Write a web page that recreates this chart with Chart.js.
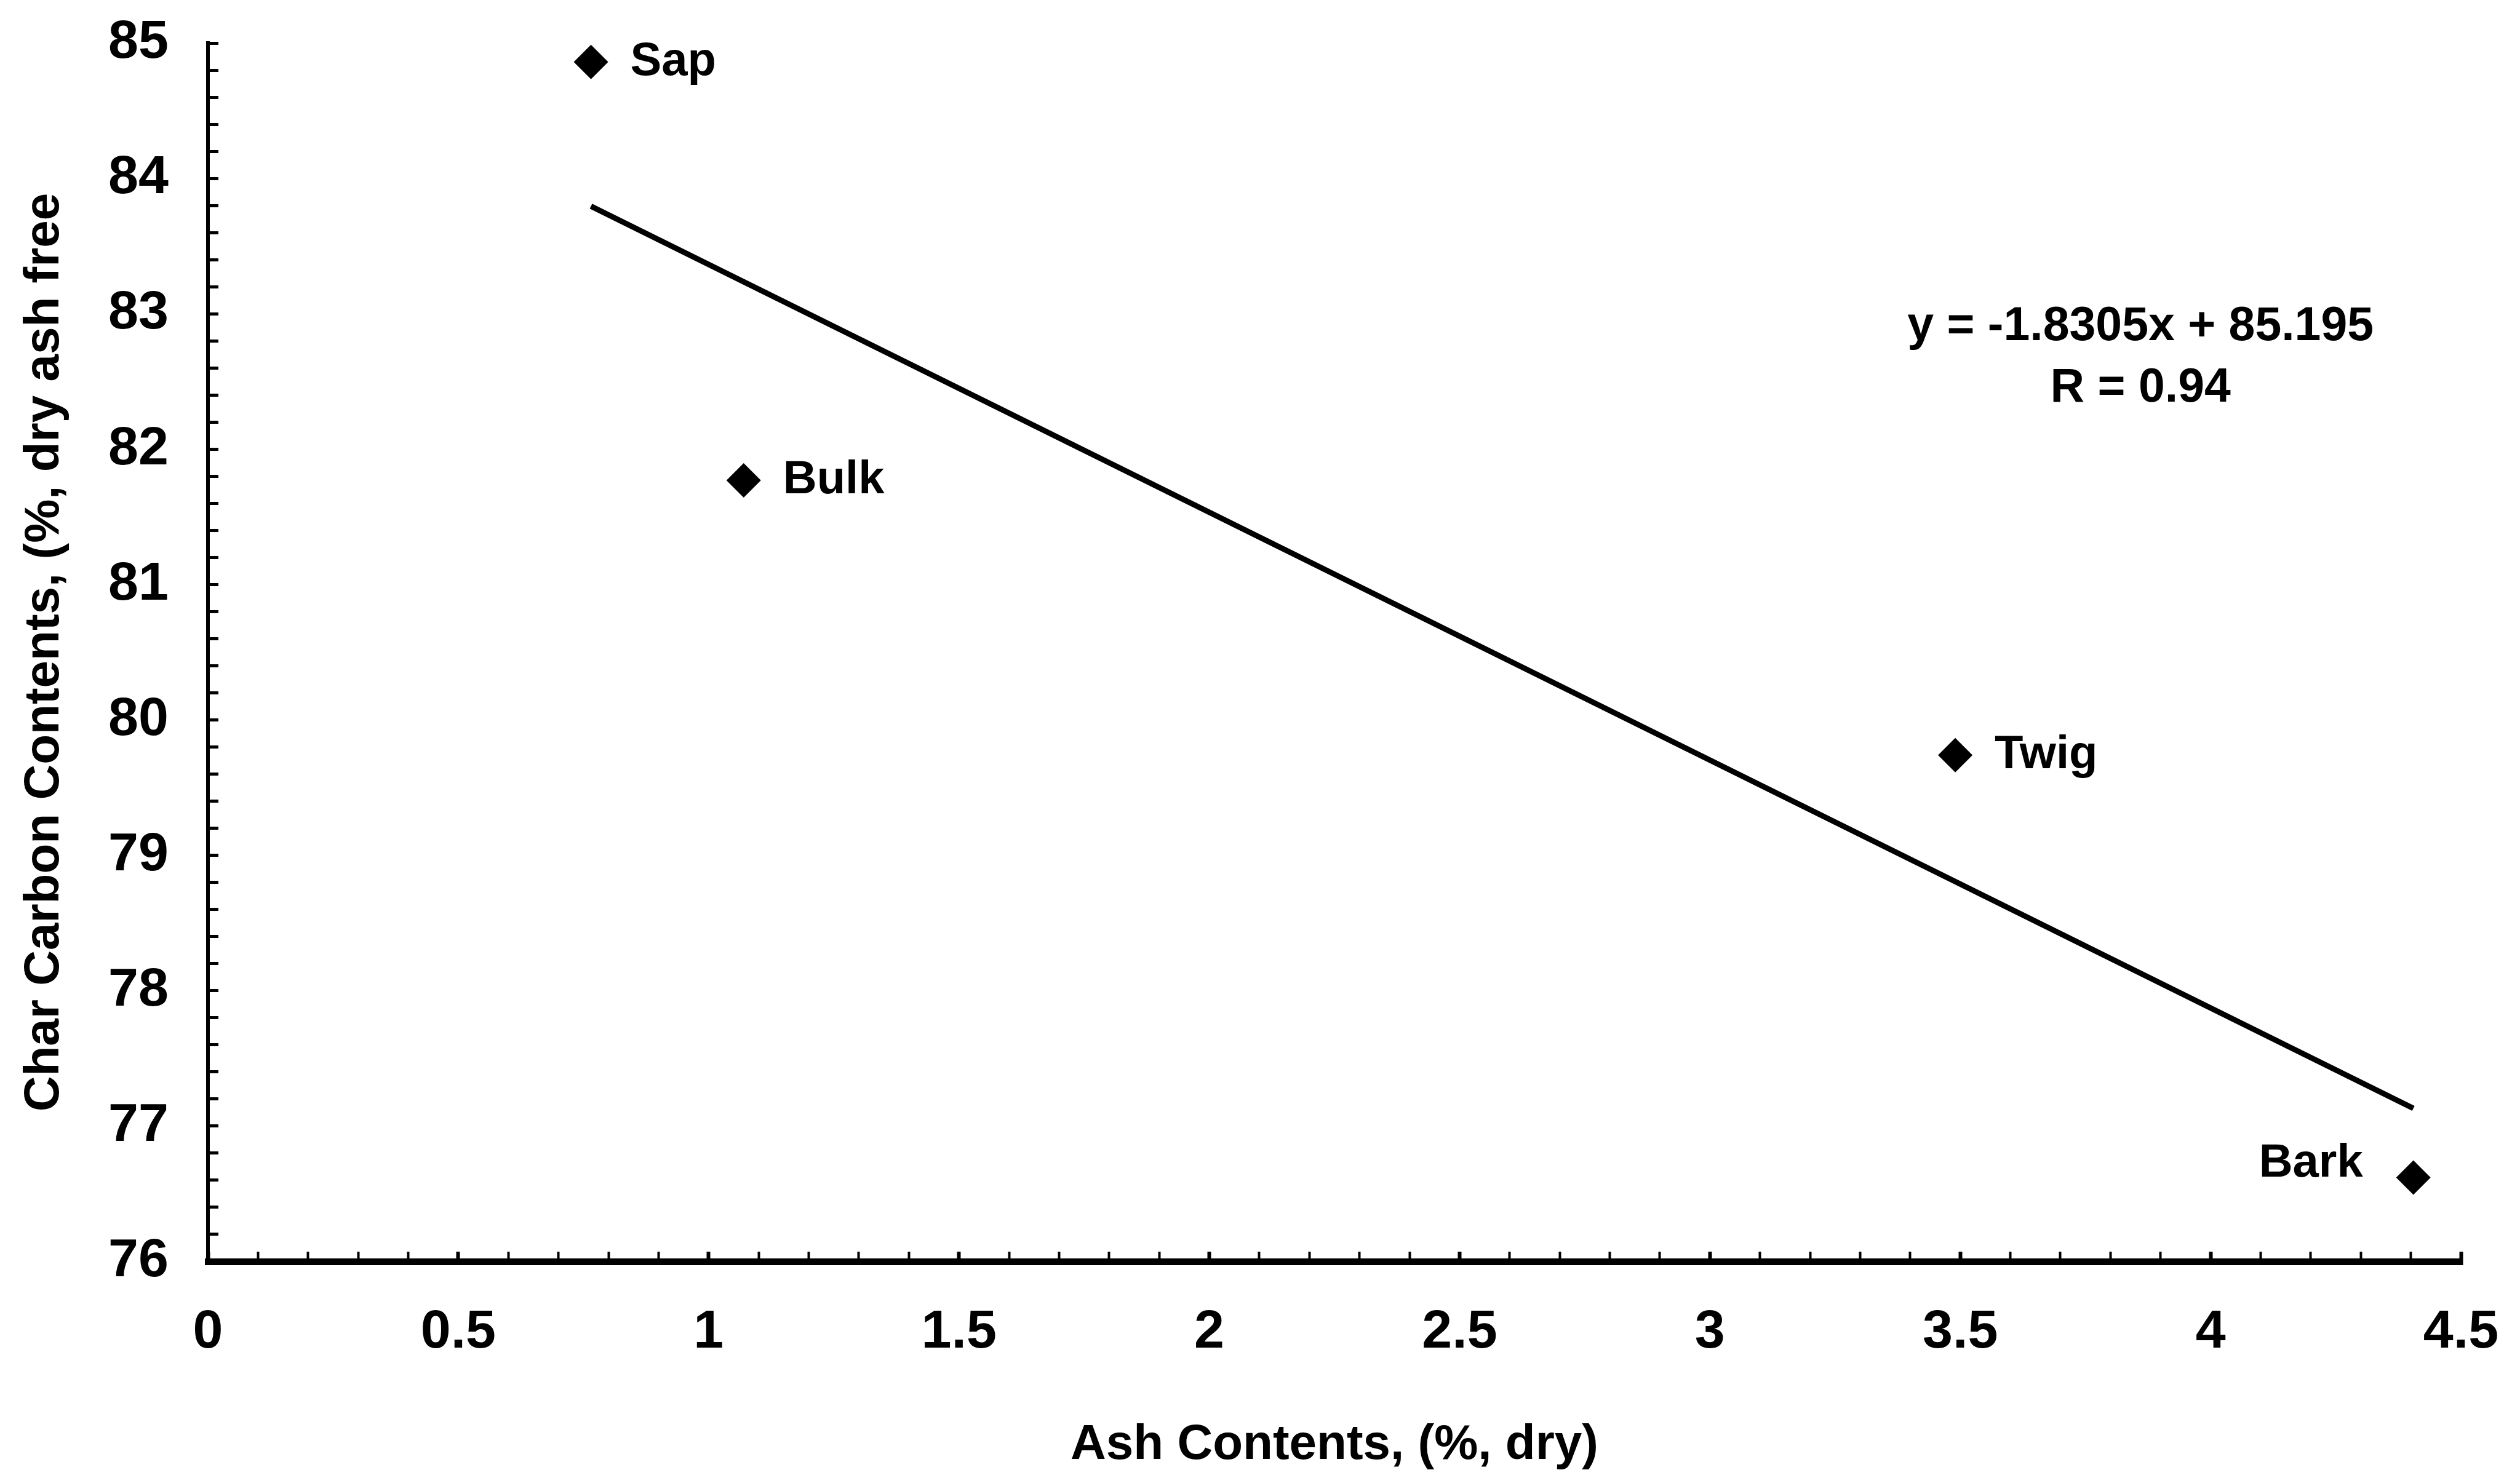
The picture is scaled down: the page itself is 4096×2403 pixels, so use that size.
<!DOCTYPE html>
<html>
<head>
<meta charset="utf-8">
<script src="https://cdn.jsdelivr.net/npm/chart.js@4.4.0/dist/chart.umd.min.js"></script>
<style>
  html, body { margin: 0; padding: 0; background: #fff; }
  #wrap { width: 4096px; height: 2403px; }
</style>
</head>
<body>
<div id="wrap"><canvas id="chart"></canvas></div>
<script>
// one point per wood fraction
const samples = ['Sap', 'Bulk', 'Twig', 'Bark'];
const ashContent = [0.765, 1.07, 3.49, 4.405];
const charCarbon = [84.86, 81.77, 79.74, 76.62];

// linear fit printed next to the line
const slope = -1.8305;
const intercept = 85.195;
const rValue = 0.94;

// labelled ticks (minor ticks in between are unlabelled)
const xTickLabels = [0, 0.5, 1, 1.5, 2, 2.5, 3, 3.5, 4, 4.5];
const yTickLabels = [76, 77, 78, 79, 80, 81, 82, 83, 84, 85];

const labelSide = ['right', 'right', 'right', 'left'];

const points = ashContent.map((x, i) => ({ x: x, y: charCarbon[i] }));
const xFrom = Math.min(...ashContent);
const xTo = Math.max(...ashContent);
const fitLine = [xFrom, xTo].map(x => ({ x: x, y: slope * x + intercept }));

const isLabelled = (list, v) => list.some(t => Math.abs(t - v) < 1e-6);

const FONT = '"Liberation Sans", Arial, sans-serif';

// names next to the markers + the fit equation
const textLayer = {
  id: 'textLayer',
  afterDatasetsDraw(chart) {
    const ctx = chart.ctx;
    const meta = chart.getDatasetMeta(1);
    ctx.save();
    ctx.fillStyle = '#000';
    ctx.font = 'bold 76px ' + FONT;
    ctx.textBaseline = 'middle';
    meta.data.forEach((pt, i) => {
      const left = labelSide[i] === 'left';
      ctx.textAlign = left ? 'right' : 'left';
      ctx.fillText(samples[i], pt.x + (left ? -82 : 64), pt.y + (left ? -22 : 0));
    });
    const ex = chart.scales.x.getPixelForValue(3.86);
    const ey = chart.scales.y.getPixelForValue(82.9);
    ctx.textAlign = 'center';
    ctx.font = 'bold 77px ' + FONT;
    ctx.fillText('y = ' + slope + 'x + ' + intercept, ex, ey);
    ctx.fillText('R = ' + rValue, ex, ey + 100);
    ctx.restore();
  }
};

new Chart(document.getElementById('chart'), {
  type: 'scatter',
  data: {
    datasets: [
      {
        data: fitLine,
        showLine: true,
        borderColor: '#000',
        borderWidth: 9,
        pointRadius: 0,
        pointHoverRadius: 0
      },
      {
        data: points,
        pointStyle: 'rectRot',
        pointRadius: 28,
        pointHoverRadius: 28,
        backgroundColor: '#000',
        borderColor: '#000',
        borderWidth: 0
      }
    ]
  },
  options: {
    responsive: true,
    maintainAspectRatio: false,
    animation: false,
    events: [],
    layout: { padding: { top: 70, right: 96, bottom: 0, left: 0 } },
    plugins: {
      legend: { display: false },
      tooltip: { enabled: false }
    },
    scales: {
      x: {
        type: 'linear',
        min: 0,
        max: 4.5,
        // fixed box; label overhang is already covered by the layout padding
        afterFit: s => { s.height = 352; s.paddingLeft = 0; s.paddingRight = 0; },
        border: { display: true, color: '#000', width: 11 },
        grid: {
          drawOnChartArea: false,
          drawTicks: true,
          tickLength: -16,
          tickColor: '#000',
          tickWidth: c => isLabelled(xTickLabels, c.tick.value) ? 6 : 4
        },
        ticks: {
          stepSize: 0.1,
          autoSkip: false,
          maxRotation: 0,
          padding: 79,
          color: '#000',
          font: { family: FONT, size: 88, weight: 'bold' },
          callback: v => isLabelled(xTickLabels, v) ? String(Math.round(v * 2) / 2) : ''
        },
        title: {
          display: true,
          text: 'Ash Contents, (%, dry)',
          color: '#000',
          font: { family: FONT, size: 80, weight: 'bold' },
          padding: { top: 0, bottom: 5 }
        }
      },
      y: {
        type: 'linear',
        min: 76,
        max: 85,
        afterFit: s => { s.width = 338; s.paddingTop = 0; s.paddingBottom = 0; },
        border: { display: true, color: '#000', width: 6 },
        grid: {
          drawOnChartArea: false,
          drawTicks: true,
          tickLength: -17,
          tickColor: '#000',
          tickWidth: 5
        },
        ticks: {
          stepSize: 0.2,
          autoSkip: false,
          padding: 81,
          color: '#000',
          font: { family: FONT, size: 88, weight: 'bold' },
          callback: v => isLabelled(yTickLabels, v) ? String(Math.round(v)) : ''
        },
        title: {
          display: true,
          text: 'Char Carbon Contents, (%, dry ash free',
          color: '#000',
          font: { family: FONT, size: 80, weight: 'bold' },
          padding: { top: 25, bottom: 0 }
        }
      }
    }
  },
  plugins: [textLayer]
});
</script>
</body>
</html>
